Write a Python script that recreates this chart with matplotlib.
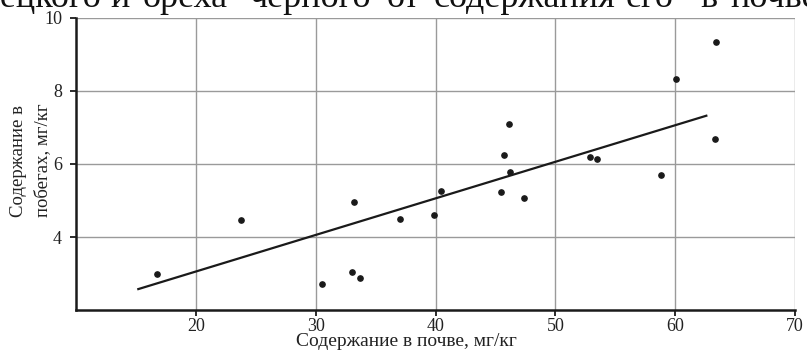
import numpy as np
import matplotlib
matplotlib.use('Agg')
import matplotlib.pyplot as plt

# soil content (mg/kg) vs shoot content (mg/kg)
soil = [16.8, 23.8, 30.5, 33.0, 33.7, 33.2, 37.0, 39.9, 40.5, 45.5, 45.7,
        46.2, 46.1, 47.4, 52.9, 53.5, 58.8, 60.1, 63.3, 63.4]
shoots = [3.0, 4.47, 2.72, 3.04, 2.87, 4.95, 4.5, 4.59, 5.25, 5.24, 6.24,
          5.77, 7.1, 5.07, 6.2, 6.15, 5.7, 8.32, 6.68, 9.33]

# regression line
fit_range = [15.2, 62.6]
fit_slope = 0.1002
fit_intercept = 1.05

xticks = [20, 30, 40, 50, 60, 70]
yticks = [4, 6, 8, 10]

# the caption above the chart is clipped by the picture edge; words are spread out (justified)
title_words = ['грецкого', 'и', 'ореха', 'черного', 'от', 'содержания', 'его', 'в', 'почве']
title_word_x = [101, 110, 143, 250, 387, 434, 626, 700, 730]

plt.rcParams['font.family'] = ['Liberation Serif', 'DejaVu Serif']

fig = plt.figure(figsize=(8.07, 3.52), dpi=100)
ax = fig.add_axes([76 / 807, 42 / 352, 719 / 807, 292 / 352])

ax.set_xlim(10, 70)
ax.set_ylim(2, 10)
ax.set_xticks(xticks)
ax.set_yticks(yticks)
ax.grid(True, color='#9a9a9a', linewidth=1.0)
ax.set_axisbelow(True)

for side in ['top', 'right']:
    ax.spines[side].set_visible(False)
for side in ['left', 'bottom']:
    ax.spines[side].set_linewidth(1.8)
    ax.spines[side].set_color('#1a1a1a')
ax.tick_params(direction='out', length=4, width=1.3, color='#1a1a1a',
               labelsize=13, labelcolor='#222222')
ax.tick_params(axis='y', pad=6)
ax.tick_params(axis='x', pad=1.5)

fx = np.array(fit_range)
ax.plot(fx, fit_slope * fx + fit_intercept, color='#1a1a1a', linewidth=1.6)
ax.plot(soil, shoots, 'o', color='#1a1a1a', markersize=3.8)

fig.text(406 / 807, 6 / 352, 'Содержание в почве, мг/кг', ha='center', va='baseline',
         fontsize=14, color='#222222')
fig.text(19 / 807, 135 / 352, 'Содержание в', rotation=90, ha='center', va='bottom',
         fontsize=13.5, color='#222222')
fig.text(43 / 807, 135 / 352, 'побегах, мг/кг', rotation=90, ha='center', va='bottom',
         fontsize=13.5, color='#222222')

for i, word in enumerate(title_words):
    fig.text(title_word_x[i] / 807, 1 - 7 / 352, word, ha='right' if i == 0 else 'left',
             va='baseline', fontsize=26, color='#111111')

fig.savefig('out.png', dpi=100)
